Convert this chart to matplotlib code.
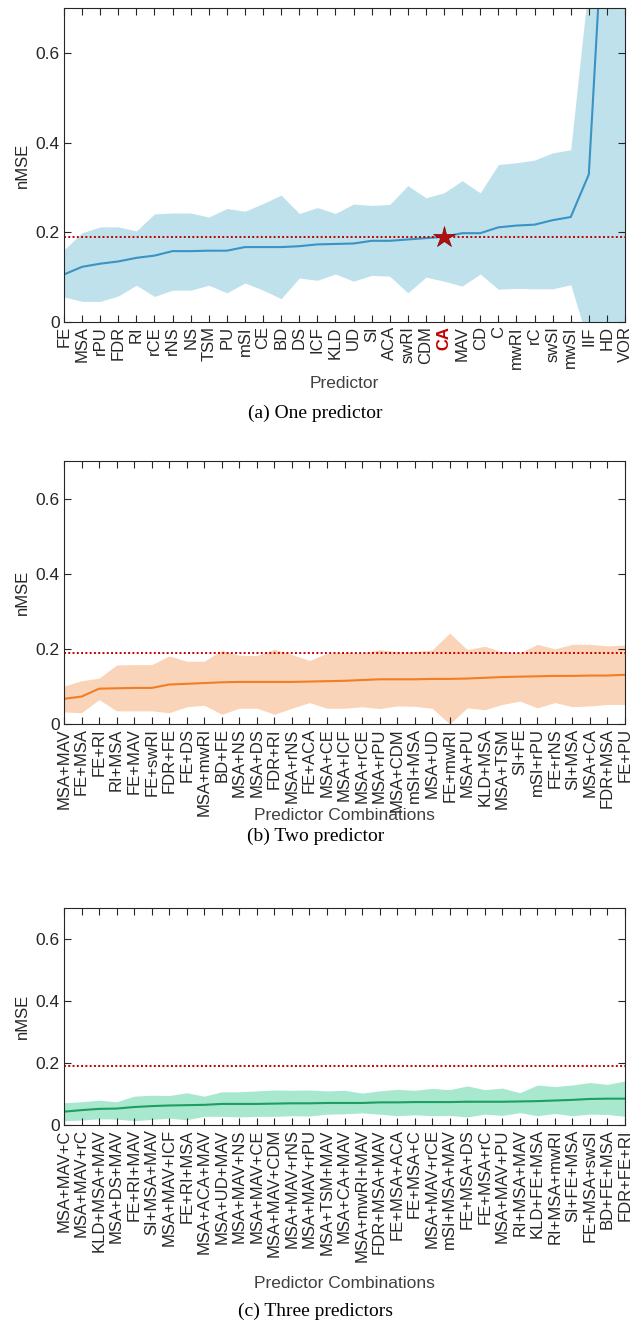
import matplotlib
matplotlib.use("Agg")
import matplotlib.pyplot as plt

plt.rcParams['font.family'] = ['Liberation Sans', 'DejaVu Sans']

# (a) one predictor
one_labels = ["FE", "MSA", "rPU", "FDR", "RI", "rCE", "rNS", "NS", "TSM", "PU", "mSI", "CE",
              "BD", "DS", "ICF", "KLD", "UD", "SI", "ACA", "swRI", "CDM", "CA", "MAV", "CD",
              "C", "mwRI", "rC", "swSI", "mwSI", "IIF", "HD", "VOR"]
one_mean = [0.106, 0.123, 0.130, 0.135, 0.143, 0.148, 0.158, 0.158, 0.159, 0.159, 0.167, 0.167,
            0.167, 0.169, 0.173, 0.174, 0.175, 0.181, 0.181, 0.184, 0.187, 0.190, 0.198, 0.198,
            0.211, 0.215, 0.217, 0.227, 0.234, 0.329, 1.05, 1.40]
one_hi = [0.161, 0.199, 0.212, 0.212, 0.203, 0.241, 0.243, 0.243, 0.234, 0.253, 0.247, 0.264,
          0.283, 0.242, 0.255, 0.242, 0.263, 0.260, 0.262, 0.304, 0.277, 0.288, 0.315, 0.288,
          0.351, 0.355, 0.361, 0.377, 0.384, 0.76, 1.8, 2.2]
one_lo = [0.056, 0.046, 0.046, 0.058, 0.082, 0.057, 0.071, 0.071, 0.082, 0.065, 0.087, 0.071,
          0.052, 0.098, 0.093, 0.107, 0.091, 0.104, 0.102, 0.065, 0.100, 0.091, 0.080, 0.107,
          0.073, 0.075, 0.074, 0.074, 0.083, -0.05, -0.3, -0.6]

# (b) two predictors
two_labels = ["MSA+MAV", "FE+MSA", "FE+RI", "RI+MSA", "FE+MAV", "FE+swRI", "FDR+FE", "FE+DS",
              "MSA+mwRI", "BD+FE", "MSA+NS", "MSA+DS", "FDR+RI", "MSA+rNS", "FE+ACA", "MSA+CE",
              "MSA+ICF", "MSA+rCE", "MSA+rPU", "MSA+CDM", "mSI+MSA", "MSA+UD", "FE+mwRI",
              "MSA+PU", "KLD+MSA", "MSA+TSM", "SI+FE", "mSI+rPU", "FE+rNS", "SI+MSA", "MSA+CA",
              "FDR+MSA", "FE+PU"]
two_mean = [0.067, 0.073, 0.094, 0.095, 0.096, 0.096, 0.105, 0.107, 0.109, 0.111, 0.112, 0.112,
            0.112, 0.112, 0.113, 0.114, 0.115, 0.117, 0.119, 0.119, 0.119, 0.120, 0.120, 0.121,
            0.123, 0.125, 0.126, 0.127, 0.128, 0.128, 0.129, 0.129, 0.131]
two_hi = [0.101, 0.115, 0.122, 0.157, 0.158, 0.158, 0.181, 0.167, 0.167, 0.196, 0.183, 0.182,
          0.199, 0.185, 0.169, 0.188, 0.191, 0.188, 0.198, 0.192, 0.193, 0.197, 0.242, 0.198,
          0.207, 0.192, 0.189, 0.212, 0.200, 0.212, 0.212, 0.208, 0.210]
two_lo = [0.032, 0.030, 0.065, 0.035, 0.035, 0.035, 0.030, 0.046, 0.050, 0.026, 0.042, 0.042,
          0.026, 0.042, 0.057, 0.042, 0.042, 0.046, 0.041, 0.048, 0.047, 0.042, 0.000, 0.043,
          0.038, 0.052, 0.061, 0.043, 0.057, 0.046, 0.048, 0.052, 0.052]

# (c) three predictors
three_labels = ["MSA+MAV+C", "MSA+MAV+rC", "KLD+MSA+MAV", "MSA+DS+MAV", "FE+RI+MAV",
                "SI+MSA+MAV", "MSA+MAV+ICF", "FE+RI+MSA", "MSA+ACA+MAV", "MSA+UD+MAV",
                "MSA+MAV+NS", "MSA+MAV+CE", "MSA+MAV+CDM", "MSA+MAV+rNS", "MSA+MAV+rPU",
                "MSA+TSM+MAV", "MSA+CA+MAV", "MSA+mwRI+MAV", "FDR+MSA+MAV", "FE+MSA+ACA",
                "FE+MSA+C", "MSA+MAV+rCE", "mSI+MSA+MAV", "FE+MSA+DS", "FE+MSA+rC",
                "MSA+MAV+PU", "RI+MSA+MAV", "KLD+FE+MSA", "RI+MSA+mwRI", "SI+FE+MSA",
                "FE+MSA+swSI", "BD+FE+MSA", "FDR+FE+RI"]
three_mean = [0.043, 0.048, 0.052, 0.053, 0.058, 0.061, 0.063, 0.064, 0.065, 0.068, 0.068, 0.068,
              0.069, 0.070, 0.070, 0.071, 0.071, 0.071, 0.073, 0.073, 0.074, 0.074, 0.074, 0.075,
              0.075, 0.075, 0.076, 0.077, 0.079, 0.081, 0.084, 0.085, 0.085]
three_hi = [0.072, 0.075, 0.080, 0.075, 0.093, 0.096, 0.095, 0.104, 0.093, 0.107, 0.107, 0.110,
            0.113, 0.112, 0.113, 0.110, 0.112, 0.103, 0.110, 0.115, 0.112, 0.118, 0.114, 0.126,
            0.114, 0.119, 0.104, 0.129, 0.124, 0.129, 0.137, 0.131, 0.142]
three_lo = [0.014, 0.016, 0.020, 0.019, 0.014, 0.018, 0.022, 0.017, 0.028, 0.028, 0.026, 0.028,
            0.028, 0.030, 0.029, 0.035, 0.036, 0.039, 0.035, 0.030, 0.033, 0.030, 0.031, 0.026,
            0.035, 0.031, 0.040, 0.030, 0.037, 0.030, 0.035, 0.034, 0.028]

baseline = 0.19
highlight = "CA"

panels = [
    (one_labels, one_mean, one_lo, one_hi, "#bfe1ec", "#3a93c3", "Predictor", "(a) One predictor"),
    (two_labels, two_mean, two_lo, two_hi, "#f9d4b8", "#f07e26", "Predictor Combinations", "(b) Two predictor"),
    (three_labels, three_mean, three_lo, three_hi, "#a8e8cf", "#1e9e60", "Predictor Combinations", "(c) Three predictors"),
]

# axes boxes in pixels: (top, bottom), plus xlabel/caption centre rows
boxes = [(8, 322, 384, 413), (461, 724, 816, 836), (908, 1125, 1283, 1311)]

W, H = 631, 1323
fig = plt.figure(figsize=(W / 100, H / 100), dpi=100)
left, right = 64, 625

for (labels, mean, lo, hi, fill, line, xlab, cap), (top, bot, xl_y, cap_y) in zip(panels, boxes):
    ax = fig.add_axes([left / W, 1 - bot / H, (right - left) / W, (bot - top) / H])
    x = list(range(1, len(labels) + 1))
    ax.fill_between(x, lo, hi, color=fill, linewidth=0)
    ax.plot(x, mean, color=line, lw=1.5)
    ax.axhline(baseline, color="#c00000", ls=(0, (1, 1.2)), lw=1.4)
    if highlight in labels:
        i = labels.index(highlight)
        ax.plot(x[i], mean[i], marker="*", ms=16, color="#b01010", mec="#8a0000", mew=0.5)
    ax.set_xlim(1, len(labels))
    ax.set_ylim(0, 0.7)
    ax.set_xticks(x)
    ax.set_xticklabels(labels, rotation=90, fontsize=12)
    ax.set_yticks([0, 0.2, 0.4, 0.6])
    ax.set_yticklabels(["0", "0.2", "0.4", "0.6"], fontsize=12.5)
    ax.tick_params(direction="in", top=True, right=True, length=5, width=0.8,
                   colors="#262626", pad=3)
    for s in ax.spines.values():
        s.set_color("#262626")
        s.set_linewidth(0.8)
    for t in ax.get_xticklabels():
        if t.get_text() == highlight:
            t.set_color("#c00000")
            t.set_fontweight("bold")
    ax.set_ylabel("nMSE", fontsize=12, color="#262626", labelpad=4)
    fig.text(0.5 * (left + right) / W, 1 - xl_y / H, xlab, ha="center", va="center",
             fontsize=12.5, color="#404040")
    fig.text(0.5, 1 - cap_y / H, cap, ha="center", va="center", fontsize=14,
             family="Liberation Serif")

fig.savefig("out.png", dpi=100)
